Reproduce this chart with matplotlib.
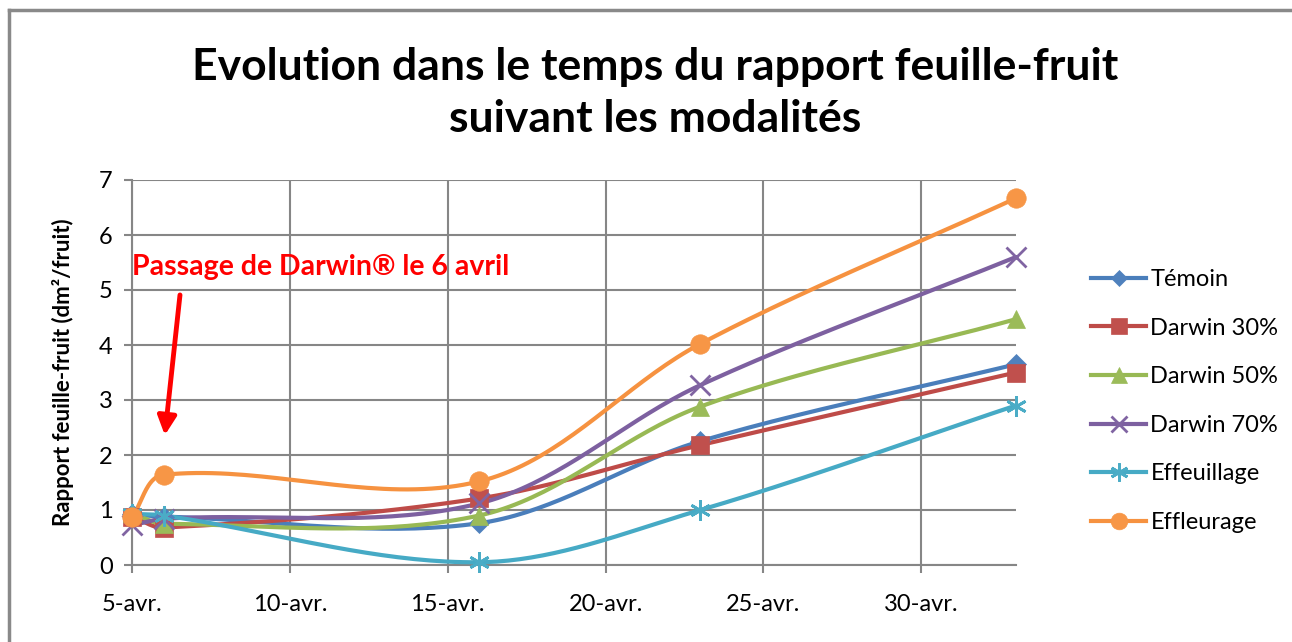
import numpy as np
import matplotlib
matplotlib.use("Agg")
import matplotlib.pyplot as plt
from matplotlib.lines import Line2D
from matplotlib.ticker import FuncFormatter

plt.rcParams['font.family'] = ['Lato', 'DejaVu Sans']

# measurement days (day of April; 33 = 3 May)
days = [5, 6, 16, 23, 33]
series_names = ["Témoin", "Darwin 30%", "Darwin 50%", "Darwin 70%", "Effeuillage", "Effleurage"]
temoin = [0.92, 0.88, 0.76, 2.25, 3.65]
darwin30 = [0.88, 0.68, 1.21, 2.18, 3.50]
darwin50 = [0.95, 0.75, 0.90, 2.88, 4.47]
darwin70 = [0.72, 0.84, 1.12, 3.27, 5.60]
effeuillage = [0.93, 0.90, 0.05, 1.00, 2.90]
effleurage = [0.87, 1.64, 1.52, 4.02, 6.67]
x_ticks = [5, 10, 15, 20, 25, 30]

values = [temoin, darwin30, darwin50, darwin70, effeuillage, effleurage]
colors = ["#4A7EBB", "#BE4B48", "#98B954", "#7D60A0", "#46AAC5", "#F69240"]
mcolors = ["#4F81BD", "#C0504D", "#9BBB59", "#8064A2", "#4BACC6", "#F79646"]
markers = ["D", "s", "^", "x", "*", "o"]
msizes = [10, 13, 13, 14, 15, 14]


def smooth(ax, x, y, n=40):
    # Excel-like smoothed line, built in display space:
    # Bezier segments, tangent along (next - prev), length 1/3 of the segment
    pts = ax.transData.transform(np.column_stack([x, y]).astype(float))
    m = len(pts)
    t = np.linspace(0, 1, n)[:, None]
    out = []
    for i in range(m - 1):
        p0 = pts[max(i - 1, 0)]
        p1 = pts[i]
        p2 = pts[i + 1]
        p3 = pts[min(i + 2, m - 1)]
        seg_len = np.hypot(*(p2 - p1))
        d1 = (p2 - p0) / np.hypot(*(p2 - p0))
        d2 = (p3 - p1) / np.hypot(*(p3 - p1))
        c1 = p1 + d1 * seg_len / 3
        c2 = p2 - d2 * seg_len / 3
        seg = ((1 - t) ** 3) * p1 + 3 * ((1 - t) ** 2) * t * c1 + 3 * (1 - t) * t ** 2 * c2 + t ** 3 * p2
        out.append(seg if i == 0 else seg[1:])
    out = ax.transData.inverted().transform(np.vstack(out))
    return out[:, 0], out[:, 1]


fig = plt.figure(figsize=(12.92, 6.42), dpi=100)
ax = fig.add_axes([132 / 1292, 1 - 565 / 642, (1016 - 132) / 1292, 385 / 642])
ax.set_xlim(days[0], days[-1])
ax.set_ylim(0, 7)

grid_c = "#868686"
handles = []
for name, vals, c, mc, mk, ms in zip(series_names, values, colors, mcolors, markers, msizes):
    sx, sy = smooth(ax, days, vals)
    ax.plot(sx, sy, color=c, lw=3, solid_capstyle='round', zorder=3, clip_on=False)
    mew = 2 if mk in ("x", "*") else 0.5
    if mk == "*":
        ax.plot(days, vals, linestyle='none', marker=(6, 2, 0), markersize=ms,
                color=mc, markeredgewidth=2, zorder=4, clip_on=False)
        h = Line2D([], [], color=c, lw=3, marker=(6, 2, 0), markersize=ms - 2,
                   markeredgecolor=mc, markeredgewidth=2)
    else:
        ax.plot(days, vals, linestyle='none', marker=mk, markersize=ms,
                color=mc, markeredgecolor=mc, markeredgewidth=mew, zorder=4, clip_on=False)
        h = Line2D([], [], color=c, lw=3, marker=mk, markersize=ms - 2,
                   markerfacecolor=mc, markeredgecolor=mc, markeredgewidth=mew)
    handles.append(h)

ax.set_xticks(x_ticks)
ax.xaxis.set_major_formatter(FuncFormatter(lambda v, p: f"{int(v)}-avr."))
ax.set_yticks(range(0, 8))
ax.grid(True, color=grid_c, lw=1.5)
ax.set_axisbelow(True)
for s in ["top", "right"]:
    ax.spines[s].set_visible(False)
for s in ["left", "bottom"]:
    ax.spines[s].set_color(grid_c)
    ax.spines[s].set_linewidth(1.5)
ax.tick_params(axis='both', direction='out', length=6, width=1.5, color=grid_c,
               labelsize=17, pad=8)
ax.tick_params(axis='x', pad=15)
ax.set_ylabel("Rapport feuille-fruit (dm²/fruit)", fontsize=16, fontweight='bold', labelpad=18)

# annotation
ax.text(5.0, 5.42, "Passage de Darwin® le 6 avril", color="red", fontsize=20.5,
        fontweight='bold', ha='left', va='center', zorder=5)
ax.annotate("", xy=(6.04, 2.36), xytext=(6.52, 4.91),
            arrowprops=dict(arrowstyle='-|>', color='red', lw=3.5, mutation_scale=28,
                            shrinkA=0, shrinkB=0), zorder=5)

fig.text(0.507, 0.855, "Evolution dans le temps du rapport feuille-fruit\nsuivant les modalités",
         ha='center', va='center', fontsize=32, fontweight='bold', linespacing=1.36)

fig.legend(handles, series_names, loc='center left', bbox_to_anchor=(1082 / 1292, 1 - 401 / 642),
           frameon=False, fontsize=17, handlelength=2.3, handletextpad=0.2, labelspacing=1.17,
           borderaxespad=0)

# chart frame
fig.add_artist(Line2D([9 / 1292, 9 / 1292], [0, 1 - 10 / 642], transform=fig.transFigure,
                      color="#898989", lw=2.5))
fig.add_artist(Line2D([9 / 1292, 1], [1 - 10 / 642, 1 - 10 / 642], transform=fig.transFigure,
                      color="#898989", lw=2.5))

fig.savefig("out.png", dpi=100)
